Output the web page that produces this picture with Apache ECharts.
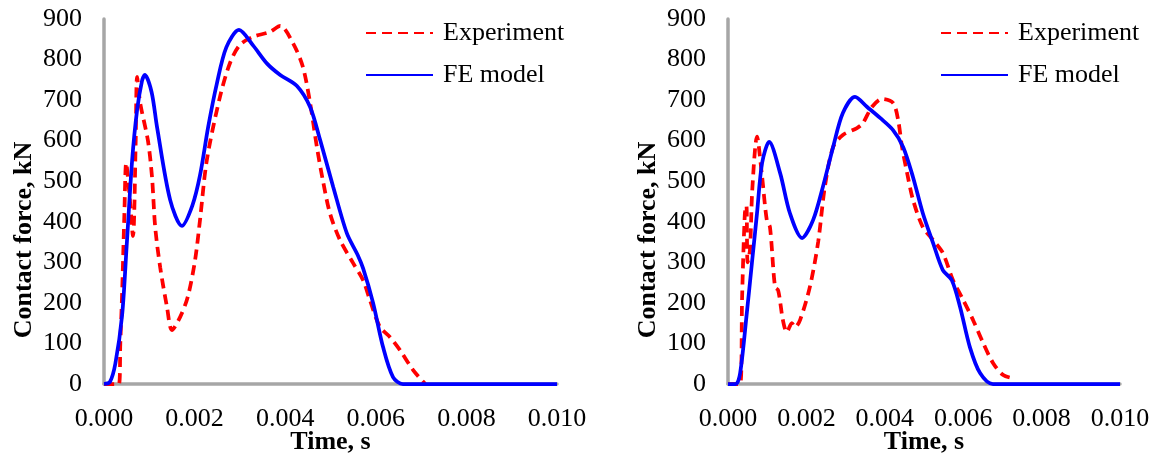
<!DOCTYPE html>
<html>
<head>
<meta charset="utf-8">
<script src="https://cdn.jsdelivr.net/npm/echarts@6/dist/echarts.min.js"></script>
<style>
  html, body { margin: 0; padding: 0; background: #fff; }
  #chart { width: 1156px; height: 459px; }
</style>
</head>
<body>
<div id="chart"></div>
<script>
  // values: [time s, force kN]
  var leftExperiment = [
    [0, 0], [0.00033, 0], [0.00036, 100], [0.0004, 224], [0.00045, 420], [0.00049, 545],
    [0.00056, 470], [0.00064, 365], [0.0007, 600], [0.00073, 757], [0.0008, 692],
    [0.00097, 600], [0.00106, 510], [0.00113, 387], [0.00124, 288], [0.00139, 190],
    [0.0015, 133], [0.00168, 165], [0.00185, 215], [0.00201, 305], [0.00212, 405],
    [0.00227, 552], [0.00256, 708], [0.00278, 791], [0.003, 836], [0.00329, 856],
    [0.00366, 868], [0.00389, 883], [0.00417, 841], [0.00439, 782], [0.00455, 693],
    [0.0047, 584], [0.00483, 503], [0.00499, 420], [0.00521, 355], [0.0055, 298],
    [0.00572, 256], [0.00587, 207], [0.00609, 141], [0.00631, 116], [0.00653, 84],
    [0.00682, 35], [0.00709, 0]
  ];
  var leftModel = [
    [0, 0], [0.00013, 5], [0.00025, 50], [0.0004, 170], [0.0005, 340], [0.00062, 550],
    [0.00073, 675], [0.00084, 748], [0.0009, 762], [0.00105, 720], [0.00117, 634],
    [0.00146, 454], [0.00172, 390], [0.00195, 440], [0.00212, 515], [0.0023, 634],
    [0.00249, 740], [0.0027, 830], [0.00298, 873], [0.00329, 835], [0.0036, 790],
    [0.00389, 762], [0.00426, 735], [0.00455, 683], [0.00477, 602], [0.00506, 486],
    [0.00536, 372], [0.0056, 318], [0.00572, 285], [0.00594, 200], [0.00616, 91],
    [0.00638, 17], [0.0066, 0], [0.01, 0]
  ];
  var rightExperiment = [
    [0, 0], [0.00031, 0], [0.00036, 214], [0.00043, 421], [0.00047, 440], [0.0005, 300],
    [0.00056, 330], [0.00062, 480], [0.00074, 610], [0.00086, 520], [0.00099, 404],
    [0.00107, 387], [0.0012, 239], [0.00128, 231], [0.0014, 158], [0.0015, 128],
    [0.00163, 150], [0.00171, 140], [0.00184, 158], [0.00209, 240], [0.0023, 350],
    [0.00247, 486], [0.00268, 584], [0.00293, 614], [0.00329, 631], [0.00344, 643],
    [0.00367, 683], [0.00393, 703], [0.00421, 693], [0.00434, 651], [0.00444, 584],
    [0.00457, 520], [0.00472, 454], [0.00497, 387], [0.00523, 355], [0.00548, 323],
    [0.00574, 256], [0.006, 207], [0.00625, 158], [0.00651, 101], [0.00676, 52],
    [0.00702, 22], [0.00724, 15]
  ];
  var rightModel = [
    [0, 0], [0.0002, 0], [0.00031, 27], [0.00048, 175], [0.00061, 298], [0.00074, 421],
    [0.00087, 545], [0.00105, 597], [0.00133, 520], [0.00158, 421], [0.00189, 360],
    [0.00217, 404], [0.00242, 486], [0.00268, 584], [0.00293, 668], [0.00324, 708],
    [0.00355, 683], [0.00388, 656], [0.00421, 626], [0.00447, 584], [0.00472, 510],
    [0.00497, 421], [0.00523, 348], [0.00548, 281], [0.00571, 256], [0.00592, 190],
    [0.00617, 91], [0.00643, 27], [0.00676, 0], [0.01, 0]
  ];
  var seriesNames = ['Experiment', 'FE model'];
  var xTitle = 'Time, s';
  var yTitle = 'Contact force, kN';

  var font = 'Liberation Serif, Times New Roman, serif';
  var axisGrey = '#a6a6a6';

  function xAxisFor (idx) {
    return {
      gridIndex: idx,
      type: 'value',
      min: 0,
      max: 0.01,
      interval: 0.002,
      name: xTitle,
      nameLocation: 'middle',
      nameGap: 45,
      nameMoveOverlap: false,
      nameTextStyle: { fontFamily: font, fontSize: 26, fontWeight: 'bold', color: '#000' },
      axisLine: { show: true, lineStyle: { color: axisGrey, width: 3.5 } },
      axisTick: { show: false },
      splitLine: { show: false },
      axisLabel: {
        fontFamily: font, fontSize: 26, color: '#000', margin: 22,
        formatter: function (v) { return v.toFixed(3); }
      }
    };
  }

  function yAxisFor (idx) {
    return {
      gridIndex: idx,
      type: 'value',
      min: 0,
      max: 900,
      interval: 100,
      axisLine: { show: true, lineStyle: { color: axisGrey, width: 3.5 } },
      axisTick: { show: false },
      splitLine: { show: false },
      axisLabel: { fontFamily: font, fontSize: 26, color: '#000', margin: 22 }
    };
  }

  function lineSeries (name, idx, data, dashed) {
    return {
      name: name,
      type: 'line',
      xAxisIndex: idx,
      yAxisIndex: idx,
      data: data,
      smooth: 0.3,
      symbol: 'none',
      lineStyle: dashed
        ? { color: '#ff0000', width: 3.75, type: [10, 6] }
        : { color: '#0000ff', width: 3.75 },
      itemStyle: { color: dashed ? '#ff0000' : '#0000ff' }
    };
  }

  function legendAt (left) {
    return {
      orient: 'vertical',
      left: left,
      top: 15,
      itemWidth: 67,
      itemHeight: 26,
      itemGap: 16,
      data: seriesNames,
      itemStyle: { opacity: 0 },
      textStyle: { fontFamily: font, fontSize: 26, color: '#000', padding: [0, 0, 0, 5] }
    };
  }

  var myChart = echarts.init(document.getElementById('chart'));
  myChart.setOption({
    animation: false,
    grid: [
      { left: 104, top: 19, width: 453, height: 365, outerBoundsMode: 'none' },
      { left: 728, top: 19, width: 392, height: 365, outerBoundsMode: 'none' }
    ],
    xAxis: [xAxisFor(0), xAxisFor(1)],
    yAxis: [yAxisFor(0), yAxisFor(1)],
    legend: [legendAt(360), legendAt(935)],
    graphic: [
      {
        type: 'text', x: 24, y: 240, rotation: Math.PI / 2,
        style: { text: yTitle, font: 'bold 26px ' + font, fill: '#000', align: 'center', verticalAlign: 'middle' }
      },
      {
        type: 'text', x: 648, y: 240, rotation: Math.PI / 2,
        style: { text: yTitle, font: 'bold 26px ' + font, fill: '#000', align: 'center', verticalAlign: 'middle' }
      }
    ],
    series: [
      lineSeries(seriesNames[0], 0, leftExperiment, true),
      lineSeries(seriesNames[1], 0, leftModel, false),
      lineSeries(seriesNames[0], 1, rightExperiment, true),
      lineSeries(seriesNames[1], 1, rightModel, false)
    ]
  });
</script>
</body>
</html>
